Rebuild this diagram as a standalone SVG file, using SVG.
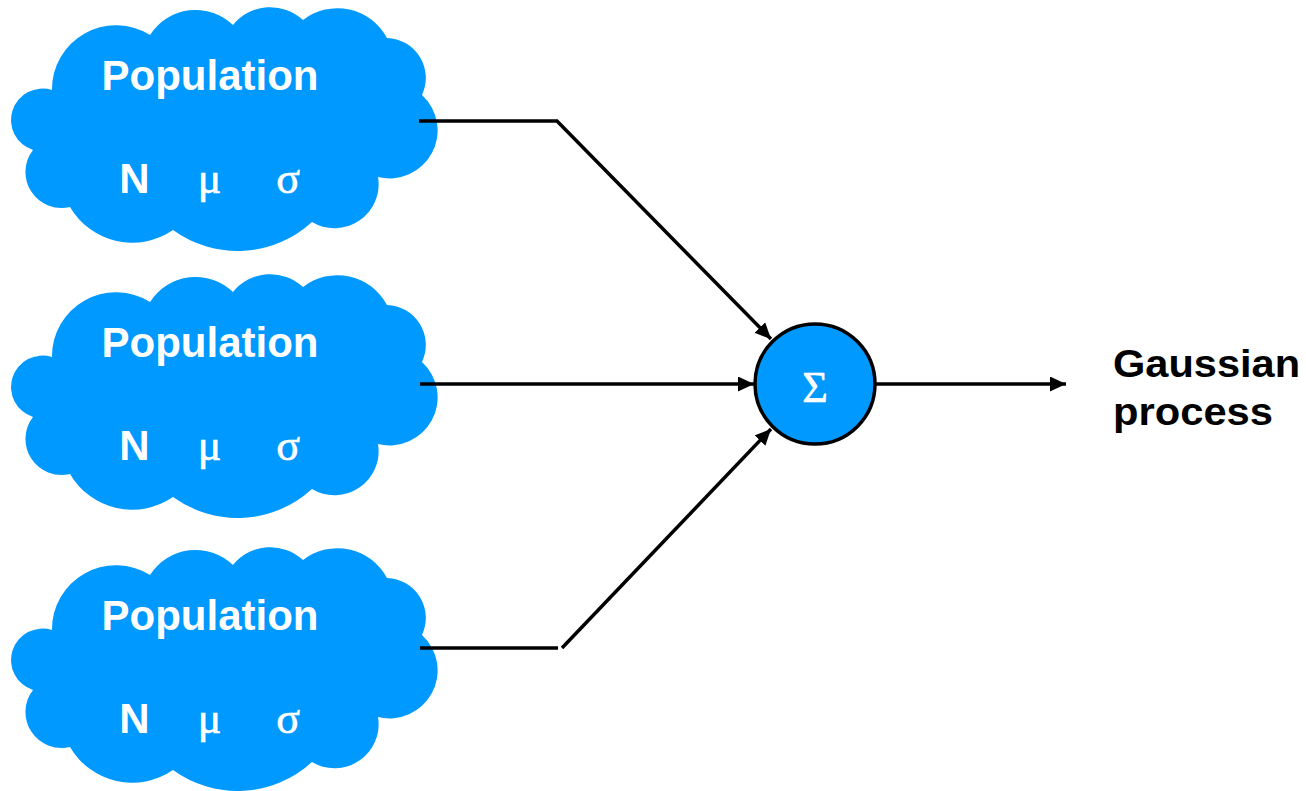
<svg xmlns="http://www.w3.org/2000/svg" xmlns:xlink="http://www.w3.org/1999/xlink" width="1306" height="791" viewBox="0 0 1306 791">
  <style>
    .cloud { fill: #0099ff; }
    .title { font-family: "Liberation Sans", Arial, sans-serif; font-weight: bold; font-size: 42px; fill: #ffffff; text-anchor: middle; }
    .sym { font-family: "Liberation Sans", Arial, sans-serif; font-weight: bold; font-size: 42px; fill: #ffffff; text-anchor: middle; }
    .greek { font-family: "Liberation Serif", "Times New Roman", serif; font-size: 44px; fill: #ffffff; stroke: #ffffff; stroke-width: 0.6; text-anchor: middle; }
    .sum { fill: #0099ff; stroke: #000000; stroke-width: 3.5; }
    .link { fill: none; stroke: #000000; stroke-width: 3.5; }
    .out { font-family: "Liberation Sans", Arial, sans-serif; font-weight: bold; font-size: 39px; fill: #000000; }
  </style>
  <defs>
    <!-- cloud outline built from outward-bulging arcs between notch points -->
    <path id="cloudShape" d="M52,90 A64,64 0 0 1 150,35 A54,54 0 0 1 233,25 A48,48 0 0 1 303,20 A56,56 0 0 1 387,38 A40,40 0 0 1 422,95 A48,48 0 0 1 378,177 A44,44 0 0 1 312,222 A110,110 0 0 1 173,230 A72,72 0 0 1 70,207 A36,36 0 0 1 33,150 A31.3,31.3 0 0 1 52,90 Z"/>
    <marker id="arrow" markerUnits="userSpaceOnUse" markerWidth="18" markerHeight="16" refX="16" refY="7.5" orient="auto">
      <path d="M0,0 L16,7.5 L0,15 Z" fill="#000000"/>
    </marker>
  </defs>

  <g id="population-1">
    <use xlink:href="#cloudShape" class="cloud"/>
    <text class="title" x="210" y="90">Population</text>
    <text class="sym" x="134.5" y="193">N</text>
    <text class="greek" x="209.5" y="193">μ</text>
    <text class="greek" x="288" y="193">σ</text>
  </g>

  <g id="population-2" transform="translate(0,267)">
    <use xlink:href="#cloudShape" class="cloud"/>
    <text class="title" x="210" y="90">Population</text>
    <text class="sym" x="134.5" y="193">N</text>
    <text class="greek" x="209.5" y="193">μ</text>
    <text class="greek" x="288" y="193">σ</text>
  </g>

  <g id="population-3" transform="translate(0,540)">
    <use xlink:href="#cloudShape" class="cloud"/>
    <text class="title" x="210" y="90">Population</text>
    <text class="sym" x="134.5" y="193">N</text>
    <text class="greek" x="209.5" y="193">μ</text>
    <text class="greek" x="288" y="193">σ</text>
  </g>

  <g id="connectors">
    <path class="link" d="M419,121 H557 L771,339" marker-end="url(#arrow)"/>
    <path class="link" d="M420,384 H754" marker-end="url(#arrow)"/>
    <path class="link" d="M420,648 H558"/>
    <path class="link" d="M562,648 L771,429" marker-end="url(#arrow)"/>
    <path class="link" d="M876,384 H1066" marker-end="url(#arrow)"/>
  </g>

  <g id="summation">
    <circle class="sum" cx="815" cy="384" r="60"/>
    <text class="greek" x="815" y="402" font-size="42" stroke-width="0.3">Σ</text>
  </g>

  <g id="output">
    <text class="out" x="1113" y="377" textLength="187" lengthAdjust="spacingAndGlyphs">Gaussian</text>
    <text class="out" x="1113" y="425" textLength="160" lengthAdjust="spacingAndGlyphs">process</text>
  </g>
</svg>
